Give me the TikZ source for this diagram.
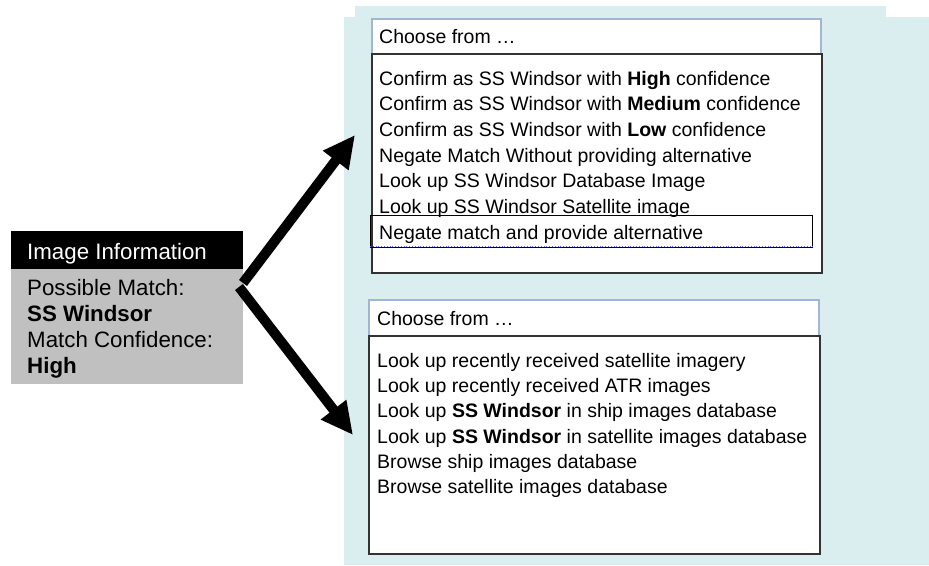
\documentclass[tikz,border=0pt]{standalone}
\usepackage{fontspec}
\setmainfont{Liberation Sans}
\usetikzlibrary{arrows.meta}
\definecolor{bgc}{RGB}{218,238,240}
\definecolor{hdrline}{RGB}{160,182,210}
\definecolor{infogray}{RGB}{192,192,192}
\begin{document}
\begin{tikzpicture}[x=1pt,y=-1pt,
  txt/.style={anchor=base west, inner sep=0pt, font=\fontsize{19.5}{23}\selectfont},
  itxt/.style={anchor=base west, inner sep=0pt, font=\fontsize{22.3}{26}\selectfont},
  hdrbox/.style={anchor=north west, draw=hdrline, line width=1.5pt, fill=white, inner sep=0pt},
  listbox/.style={anchor=north west, draw=black!80, line width=2.2pt, fill=white, inner sep=0pt},
  selbox/.style={anchor=north west, draw=black, line width=1.3pt, inner sep=0pt},
  bigarrow/.style={line width=10pt, -{Triangle[length=32pt,width=30pt]}},
  ]
\useasboundingbox (0,0) rectangle (929,565);
% background panel
\fill[bgc] (355,6) rectangle (886,17);
\fill[bgc] (344,17) rectangle (929,565);

% info box
\node[anchor=north west, fill=black, minimum width=232pt, minimum height=38pt, inner sep=0pt] (infohead) at (11,231) {};
\node[anchor=north west, fill=infogray, minimum width=232pt, minimum height=115pt, inner sep=0pt] (infobody) at (11,269) {};
\node[itxt, text=white] (t0) at (27,259) {Image Information};
\node[itxt] (t1) at (27,295) {Possible Match:};
\node[itxt] (t2) at (27,321.5) {\bfseries SS Windsor};
\node[itxt] (t3) at (27,347.5) {Match Confidence:};
\node[itxt] (t4) at (27,373) {\bfseries High};

% upper chooser
\node[hdrbox, minimum width=449pt, minimum height=35pt] (h1) at (371,18) {};
\node[txt] (h1t) at (379,43) {Choose from \dots};
\node[listbox, minimum width=450pt, minimum height=219pt] (l1) at (371,53) {};
\node[txt] (a1) at (379,85) {Confirm as SS Windsor with \textbf{High} confidence};
\node[txt] (a2) at (379,110.7) {Confirm as SS Windsor with \textbf{Medium} confidence};
\node[txt] (a3) at (379,136.3) {Confirm as SS Windsor with \textbf{Low} confidence};
\node[txt] (a4) at (379,162) {Negate Match Without providing alternative};
\node[txt] (a5) at (379,187.7) {Look up SS Windsor Database Image};
\node[txt] (a6) at (379,213.3) {Look up SS Windsor Satellite image};
\node[selbox, minimum width=442pt, minimum height=32pt] (sel) at (370,215) {};
\draw[blue!60, dotted, line width=0.8pt] ([yshift=1.5pt]sel.south west) -- ([yshift=1.5pt]sel.south east);
\node[txt] (a7) at (379,239) {Negate match and provide alternative};

% lower chooser
\node[hdrbox, minimum width=450pt, minimum height=36pt] (h2) at (368,299) {};
\node[txt] (h2t) at (377,325) {Choose from \dots};
\node[listbox, minimum width=451pt, minimum height=218pt] (l2) at (368,335) {};
\node[txt] (b1) at (377,367) {Look up recently received satellite imagery};
\node[txt] (b2) at (377,392.3) {Look up recently received ATR images};
\node[txt] (b3) at (377,417.6) {Look up \textbf{SS Windsor} in ship images database};
\node[txt] (b4) at (377,443) {Look up \textbf{SS Windsor} in satellite images database};
\node[txt] (b5) at (377,468.3) {Browse ship images database};
\node[txt] (b6) at (377,493.6) {Browse satellite images database};

% arrows
\coordinate (s1) at (243,283);
\coordinate (e1) at (355,135);
\coordinate (s2) at (239,287);
\coordinate (e2) at (353,435);
\draw[bigarrow] (s1) -- (e1);
\draw[bigarrow] (s2) -- (e2);
\end{tikzpicture}
\end{document}
